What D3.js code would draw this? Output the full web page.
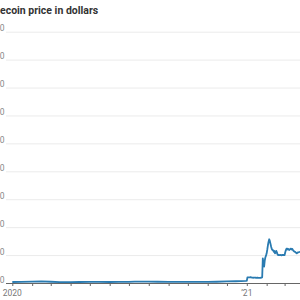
<!DOCTYPE html>
<html>
<head>
<meta charset="utf-8">
<script src="https://cdn.jsdelivr.net/npm/d3@7"></script>
<style>
  body { margin: 0; background: #fff; }
  svg { display: block; font-family: Roboto, "Noto Sans", sans-serif; }
</style>
</head>
<body>
<svg width="300" height="300"></svg>
<script>
// price series
var dates2020 = ["2020-01-01","2020-01-15","2020-02-01","2020-02-15","2020-03-01","2020-03-15",
  "2020-04-01","2020-04-15","2020-05-01","2020-05-15","2020-06-01","2020-06-15","2020-07-01",
  "2020-07-10","2020-08-01","2020-08-15","2020-09-01","2020-09-15","2020-10-01","2020-10-15",
  "2020-11-01","2020-11-15","2020-12-01","2020-12-15","2020-12-31"];
var prices2020 = [0.0036,0.0040,0.0050,0.0058,0.0045,0.0028,0.0032,0.0036,0.0038,0.0040,0.0036,
  0.0037,0.0042,0.0052,0.0048,0.0044,0.0040,0.0038,0.0038,0.0037,0.0040,0.0045,0.0055,0.0062,0.0075];

// daily from Jan 1 2021
var prices2021 = [0.0082,0.0200,0.0205,0.0200,0.0198,0.0203,0.0210,0.0200,0.0195,0.0192,0.0188,
  0.0190,0.0195,0.0190,0.0188,0.0185,0.0188,0.0190,0.0186,0.0185,0.0180,0.0185,0.0188,0.0190,
  0.0204,0.0885,0.0700,0.0584,0.0800,0.0921,0.0980,0.1064,0.1200,0.1360,0.1480,0.1566,0.1500,
  0.1400,0.1300,0.1220,0.1180,0.1180,0.1120,0.1150,0.1060,0.1080,0.1150,0.1100,0.1020,0.1000,
  0.1010,0.0995,0.1000,0.1005,0.0990,0.1000,0.1010,0.1000,0.1005,0.1000,0.1100,0.1180,0.1230,
  0.1200,0.1230,0.1210,0.1180,0.1200,0.1220,0.1230,0.1200,0.1220,0.1180,0.1150,0.1130,0.1120,
  0.1100,0.1080,0.1060,0.1080,0.1100,0.1100,0.1110,0.1100];

var yTicks = [0,0.1,0.2,0.3,0.4,0.5,0.6,0.7,0.8,0.9];
var yTickLabels = ["0","0.10","0.20","0.30","0.40","0.50","0.60","0.70","0.80","0.90"];

var parse = d3.timeParse("%Y-%m-%d");
var data = dates2020.map(function(d, i) { return {date: parse(d), price: prices2020[i]}; });
prices2021.forEach(function(p, i) {
  data.push({date: d3.timeDay.offset(new Date(2021, 0, 1), i), price: p});
});

var svg = d3.select("svg");

var x = d3.scaleTime()
    .domain([new Date(2020, 0, 1), new Date(2021, 0, 1)])
    .range([12.3, 246.8]);
var y = d3.scaleLinear()
    .domain([0, 0.9])
    .range([283, 31.7]);

// gridlines
svg.append("g")
    .selectAll("line")
    .data(yTicks.filter(function(d) { return d > 0; }))
    .join("line")
    .attr("x1", 6).attr("x2", 300)
    .attr("y1", function(d) { return y(d) + 0.5; })
    .attr("y2", function(d) { return y(d) + 0.5; })
    .attr("stroke", "#ebebeb")
    .attr("stroke-width", 1);

// y labels (mostly off the left edge)
svg.append("g")
    .selectAll("text")
    .data(yTicks)
    .join("text")
    .attr("x", 4.5)
    .attr("y", function(d) { return y(d) - 0.5; })
    .attr("text-anchor", "end")
    .attr("font-size", 8.5)
    .attr("fill", "#888")
    .text(function(d, i) { return yTickLabels[i]; });

// x axis, monthly ticks
var xt = x.copy()
    .domain([new Date(2020, 0, 1), new Date(2021, 3, 1)])
    .range([x(new Date(2020, 0, 1)), x(new Date(2021, 3, 1))]);
var gx = svg.append("g")
    .attr("transform", "translate(0," + y(0) + ")")
    .call(d3.axisBottom(xt).ticks(d3.timeMonth.every(1)).tickSize(3).tickFormat(""));
gx.select(".domain").remove();
gx.selectAll(".tick line").attr("stroke", "#666");

svg.append("line")
    .attr("x1", 6).attr("x2", 300)
    .attr("y1", y(0) + 0.5).attr("y2", y(0) + 0.5)
    .attr("stroke", "#666")
    .attr("stroke-width", 1);

svg.append("g")
    .selectAll("text")
    .data([{d: new Date(2020, 0, 1), t: "2020"}, {d: new Date(2021, 0, 1), t: "\u201921"}])
    .join("text")
    .attr("x", function(d) { return x(d.d); })
    .attr("y", 296)
    .attr("text-anchor", "middle")
    .attr("font-size", 8.5)
    .attr("fill", "#777")
    .text(function(d) { return d.t; });

// price line
var line = d3.line()
    .x(function(d) { return x(d.date); })
    .y(function(d) { return y(d.price); });

svg.append("path")
    .datum(data)
    .attr("d", line)
    .attr("fill", "none")
    .attr("stroke", "#2a7bb1")
    .attr("stroke-width", 1.8)
    .attr("stroke-linejoin", "round");

// title, cut off at the left edge like the picture
var titleFont = '"Liberation Sans Narrow", Roboto, sans-serif';
var tmp = svg.append("text")
    .attr("font-family", titleFont)
    .attr("font-size", 10.5)
    .attr("font-weight", "bold")
    .text("Dog");
var cut = tmp.node().getComputedTextLength();
tmp.remove();

svg.append("text")
    .attr("x", -cut)
    .attr("y", 14)
    .attr("font-family", titleFont)
    .attr("font-size", 10.5)
    .attr("font-weight", "bold")
    .attr("fill", "#333")
    .text("Dogecoin price in dollars");
</script>
</body>
</html>
